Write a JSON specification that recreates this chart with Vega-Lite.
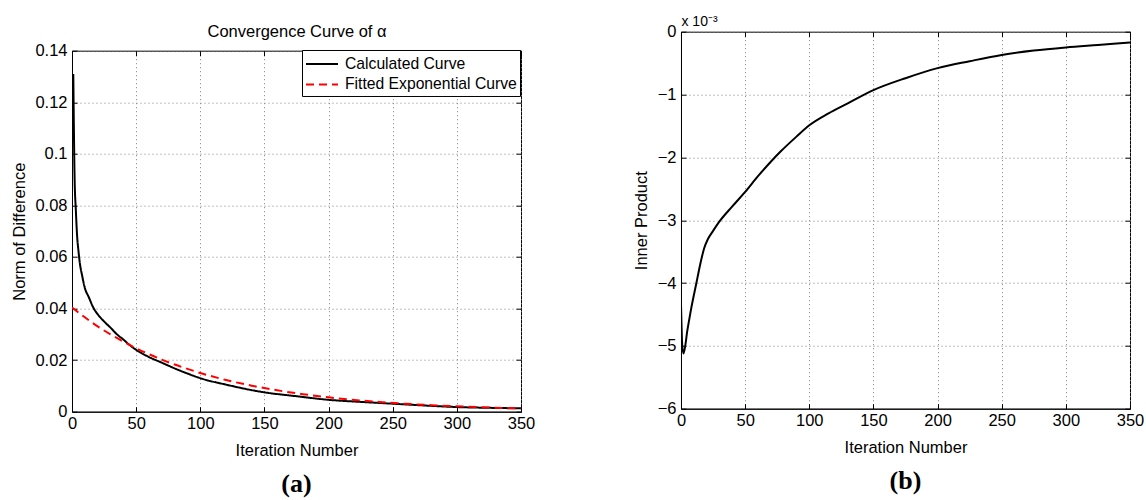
{
  "$schema": "https://vega.github.io/schema/vega-lite/v6.json",
  "padding": {"left": 10, "top": 13.7, "right": 0, "bottom": 0},
  "spacing": 97,
  "datasets": {
    "a": [
      {"iteration": 1, "value": 0.131, "series": "Calculated Curve"},
      {"iteration": 2, "value": 0.091, "series": "Calculated Curve"},
      {"iteration": 3, "value": 0.078, "series": "Calculated Curve"},
      {"iteration": 4, "value": 0.068, "series": "Calculated Curve"},
      {"iteration": 5, "value": 0.0625, "series": "Calculated Curve"},
      {"iteration": 6, "value": 0.058, "series": "Calculated Curve"},
      {"iteration": 8, "value": 0.0525, "series": "Calculated Curve"},
      {"iteration": 10, "value": 0.048, "series": "Calculated Curve"},
      {"iteration": 13, "value": 0.0445, "series": "Calculated Curve"},
      {"iteration": 17, "value": 0.040, "series": "Calculated Curve"},
      {"iteration": 20, "value": 0.0378, "series": "Calculated Curve"},
      {"iteration": 25, "value": 0.035, "series": "Calculated Curve"},
      {"iteration": 30, "value": 0.0326, "series": "Calculated Curve"},
      {"iteration": 35, "value": 0.030, "series": "Calculated Curve"},
      {"iteration": 40, "value": 0.028, "series": "Calculated Curve"},
      {"iteration": 45, "value": 0.0258, "series": "Calculated Curve"},
      {"iteration": 50, "value": 0.024, "series": "Calculated Curve"},
      {"iteration": 55, "value": 0.0225, "series": "Calculated Curve"},
      {"iteration": 60, "value": 0.0212, "series": "Calculated Curve"},
      {"iteration": 70, "value": 0.019, "series": "Calculated Curve"},
      {"iteration": 80, "value": 0.0168, "series": "Calculated Curve"},
      {"iteration": 90, "value": 0.0148, "series": "Calculated Curve"},
      {"iteration": 100, "value": 0.013, "series": "Calculated Curve"},
      {"iteration": 120, "value": 0.0105, "series": "Calculated Curve"},
      {"iteration": 150, "value": 0.0075, "series": "Calculated Curve"},
      {"iteration": 175, "value": 0.006, "series": "Calculated Curve"},
      {"iteration": 200, "value": 0.0046, "series": "Calculated Curve"},
      {"iteration": 225, "value": 0.0038, "series": "Calculated Curve"},
      {"iteration": 250, "value": 0.0031, "series": "Calculated Curve"},
      {"iteration": 275, "value": 0.0024, "series": "Calculated Curve"},
      {"iteration": 300, "value": 0.0018, "series": "Calculated Curve"},
      {"iteration": 325, "value": 0.0015, "series": "Calculated Curve"},
      {"iteration": 350, "value": 0.0013, "series": "Calculated Curve"},
      {"iteration": 0, "value": 0.0404, "series": "Fitted Exponential Curve"},
      {"iteration": 10, "value": 0.0366, "series": "Fitted Exponential Curve"},
      {"iteration": 20, "value": 0.0331, "series": "Fitted Exponential Curve"},
      {"iteration": 30, "value": 0.0300, "series": "Fitted Exponential Curve"},
      {"iteration": 40, "value": 0.0272, "series": "Fitted Exponential Curve"},
      {"iteration": 50, "value": 0.0246, "series": "Fitted Exponential Curve"},
      {"iteration": 60, "value": 0.0223, "series": "Fitted Exponential Curve"},
      {"iteration": 70, "value": 0.0202, "series": "Fitted Exponential Curve"},
      {"iteration": 80, "value": 0.0183, "series": "Fitted Exponential Curve"},
      {"iteration": 90, "value": 0.0166, "series": "Fitted Exponential Curve"},
      {"iteration": 100, "value": 0.0150, "series": "Fitted Exponential Curve"},
      {"iteration": 120, "value": 0.0123, "series": "Fitted Exponential Curve"},
      {"iteration": 140, "value": 0.0101, "series": "Fitted Exponential Curve"},
      {"iteration": 160, "value": 0.00829, "series": "Fitted Exponential Curve"},
      {"iteration": 180, "value": 0.0068, "series": "Fitted Exponential Curve"},
      {"iteration": 200, "value": 0.00558, "series": "Fitted Exponential Curve"},
      {"iteration": 220, "value": 0.00457, "series": "Fitted Exponential Curve"},
      {"iteration": 240, "value": 0.00375, "series": "Fitted Exponential Curve"},
      {"iteration": 260, "value": 0.00308, "series": "Fitted Exponential Curve"},
      {"iteration": 280, "value": 0.00253, "series": "Fitted Exponential Curve"},
      {"iteration": 300, "value": 0.00207, "series": "Fitted Exponential Curve"},
      {"iteration": 320, "value": 0.0017, "series": "Fitted Exponential Curve"},
      {"iteration": 340, "value": 0.00139, "series": "Fitted Exponential Curve"},
      {"iteration": 350, "value": 0.00126, "series": "Fitted Exponential Curve"}
    ],
    "b": [
      {"iteration": 0, "value": -0.00433},
      {"iteration": 1, "value": -0.0050},
      {"iteration": 2, "value": -0.00512},
      {"iteration": 5, "value": -0.00475},
      {"iteration": 8, "value": -0.0044},
      {"iteration": 12, "value": -0.0040},
      {"iteration": 15, "value": -0.0037},
      {"iteration": 18, "value": -0.00345},
      {"iteration": 21, "value": -0.0033},
      {"iteration": 25, "value": -0.00317},
      {"iteration": 30, "value": -0.00302},
      {"iteration": 40, "value": -0.00278},
      {"iteration": 50, "value": -0.00255},
      {"iteration": 60, "value": -0.0023},
      {"iteration": 70, "value": -0.00207},
      {"iteration": 78, "value": -0.0019},
      {"iteration": 90, "value": -0.00167},
      {"iteration": 100, "value": -0.00149},
      {"iteration": 115, "value": -0.0013},
      {"iteration": 130, "value": -0.00114},
      {"iteration": 150, "value": -0.00093},
      {"iteration": 175, "value": -0.00074},
      {"iteration": 200, "value": -0.00058},
      {"iteration": 225, "value": -0.00047},
      {"iteration": 250, "value": -0.00037},
      {"iteration": 275, "value": -0.0003},
      {"iteration": 300, "value": -0.00025},
      {"iteration": 325, "value": -0.00021},
      {"iteration": 350, "value": -0.00017}
    ]
  },
  "hconcat": [
    {
      "vconcat": [
        {
          "width": 449,
          "height": 18.3,
          "view": {"stroke": null},
          "data": {"values": [{"k": 1}]},
          "mark": {"type": "point", "opacity": 0},
          "encoding": {}
        },
        {
          "width": 449,
          "height": 361,
          "title": {"text": "(a)", "orient": "bottom", "font": "Liberation Serif", "fontSize": 26, "fontWeight": "bold", "color": "black", "offset": 12, "anchor": "middle", "frame": "group"},
          "data": {"name": "a"},
          "layer": [
            {
              "mark": {"type": "line", "strokeWidth": 2, "clip": true, "interpolate": "monotone"},
              "encoding": {
                "x": {"field": "iteration", "type": "quantitative", "scale": {"domain": [0, 350], "nice": false},
                      "axis": {"orient": "bottom", "values": [0, 50, 100, 150, 200, 250, 300, 350], "title": "Iteration Number", "grid": true}},
                "y": {"field": "value", "type": "quantitative", "scale": {"domain": [0, 0.14], "nice": false, "zero": false},
                      "axis": {"orient": "left", "values": [0, 0.02, 0.04, 0.06, 0.08, 0.1, 0.12, 0.14], "format": "~g", "title": "Norm of Difference", "grid": true}},
                "color": {"field": "series", "type": "nominal",
                          "scale": {"domain": ["Calculated Curve", "Fitted Exponential Curve"], "range": ["#000000", "#ff0000"]},
                          "legend": {"title": null, "orient": "none", "legendX": 230, "legendY": 18.3, "strokeColor": "black", "fillColor": "white", "padding": 3, "symbolType": "M-1.6,0H1.6", "symbolSize": 400, "symbolStrokeWidth": 2, "symbolOffset": 6, "labelFontSize": 15.7, "labelFont": "Liberation Sans", "labelColor": "black", "labelLimit": 0, "rowPadding": 1.5, "labelOffset": 12, "cornerRadius": 0}},
                "strokeDash": {"field": "series", "type": "nominal",
                               "scale": {"domain": ["Calculated Curve", "Fitted Exponential Curve"], "range": [[1, 0], [8, 5]]},
                               "legend": {"title": null, "orient": "none", "legendX": 230, "legendY": 18.3, "strokeColor": "black", "fillColor": "white", "padding": 3, "symbolType": "M-1.6,0H1.6", "symbolSize": 400, "symbolStrokeWidth": 2, "symbolOffset": 6, "labelFontSize": 15.7, "labelFont": "Liberation Sans", "labelColor": "black", "labelLimit": 0, "rowPadding": 1.5, "labelOffset": 12, "cornerRadius": 0}}
              }
            },
            {
              "mark": {"type": "line", "strokeOpacity": 0},
              "encoding": {
                "x": {"field": "iteration", "type": "quantitative",
                      "axis": {"orient": "top", "values": [0, 50, 100, 150, 200, 250, 300, 350], "labels": false, "title": "Convergence Curve of α", "titlePadding": 11, "grid": false, "domain": false}},
                "y": {"field": "value", "type": "quantitative",
                      "axis": {"orient": "right", "values": [0, 0.02, 0.04, 0.06, 0.08, 0.1, 0.12, 0.14], "labels": false, "title": null, "grid": false, "domain": false}}
              }
            }
          ],
          "resolve": {"axis": {"x": "independent", "y": "independent"}}
        }
      ],
      "spacing": 0,
      "bounds": "flush"
    },
    {
      "width": 449,
      "height": 377,
      "title": {"text": "(b)", "orient": "bottom", "font": "Liberation Serif", "fontSize": 26, "fontWeight": "bold", "color": "black", "offset": 12, "anchor": "middle", "frame": "group"},
      "data": {"name": "b"},
      "layer": [
        {
          "mark": {"type": "line", "strokeWidth": 2, "color": "black", "clip": true, "interpolate": "monotone"},
          "encoding": {
            "x": {"field": "iteration", "type": "quantitative", "scale": {"domain": [0, 350], "nice": false},
                  "axis": {"orient": "bottom", "values": [0, 50, 100, 150, 200, 250, 300, 350], "title": "Iteration Number", "grid": true}},
            "y": {"field": "value", "type": "quantitative", "scale": {"domain": [-0.006, 0], "nice": false, "zero": false},
                  "axis": {"orient": "left", "values": [-0.006, -0.005, -0.004, -0.003, -0.002, -0.001, 0], "labelExpr": "format(datum.value*1000, '.0f')", "title": "Inner Product", "grid": true}}
          }
        },
        {
          "mark": {"type": "line", "strokeOpacity": 0},
          "encoding": {
            "x": {"field": "iteration", "type": "quantitative",
                  "axis": {"orient": "top", "values": [0, 50, 100, 150, 200, 250, 300, 350], "labels": false, "title": "x 10⁻³", "titleFontSize": 14, "titleAnchor": "start", "titleAlign": "left", "titlePadding": 3, "grid": false, "domain": false}},
            "y": {"field": "value", "type": "quantitative",
                  "axis": {"orient": "right", "values": [-0.006, -0.005, -0.004, -0.003, -0.002, -0.001, 0], "labels": false, "title": null, "grid": false, "domain": false}}
          }
        }
      ],
      "resolve": {"axis": {"x": "independent", "y": "independent"}}
    }
  ],
  "config": {
    "font": "Liberation Sans",
    "background": "white",
    "view": {"stroke": "black", "strokeWidth": 1},
    "axis": {
      "domainColor": "black", "domainWidth": 1,
      "tickColor": "black", "tickSize": -5, "tickWidth": 1,
      "labelFont": "Liberation Sans", "labelFontSize": 16.5, "labelColor": "black", "labelFlush": false,
      "titleFont": "Liberation Sans", "titleFontSize": 16.5, "titleFontWeight": "normal", "titleColor": "black",
      "gridColor": "#7f7f7f", "gridDash": [1, 3], "gridOpacity": 1, "gridWidth": 1
    },
    "axisX": {"labelPadding": 8.5, "titlePadding": 10.5},
    "axisY": {"labelPadding": 10, "titlePadding": 7.5}
  }
}
